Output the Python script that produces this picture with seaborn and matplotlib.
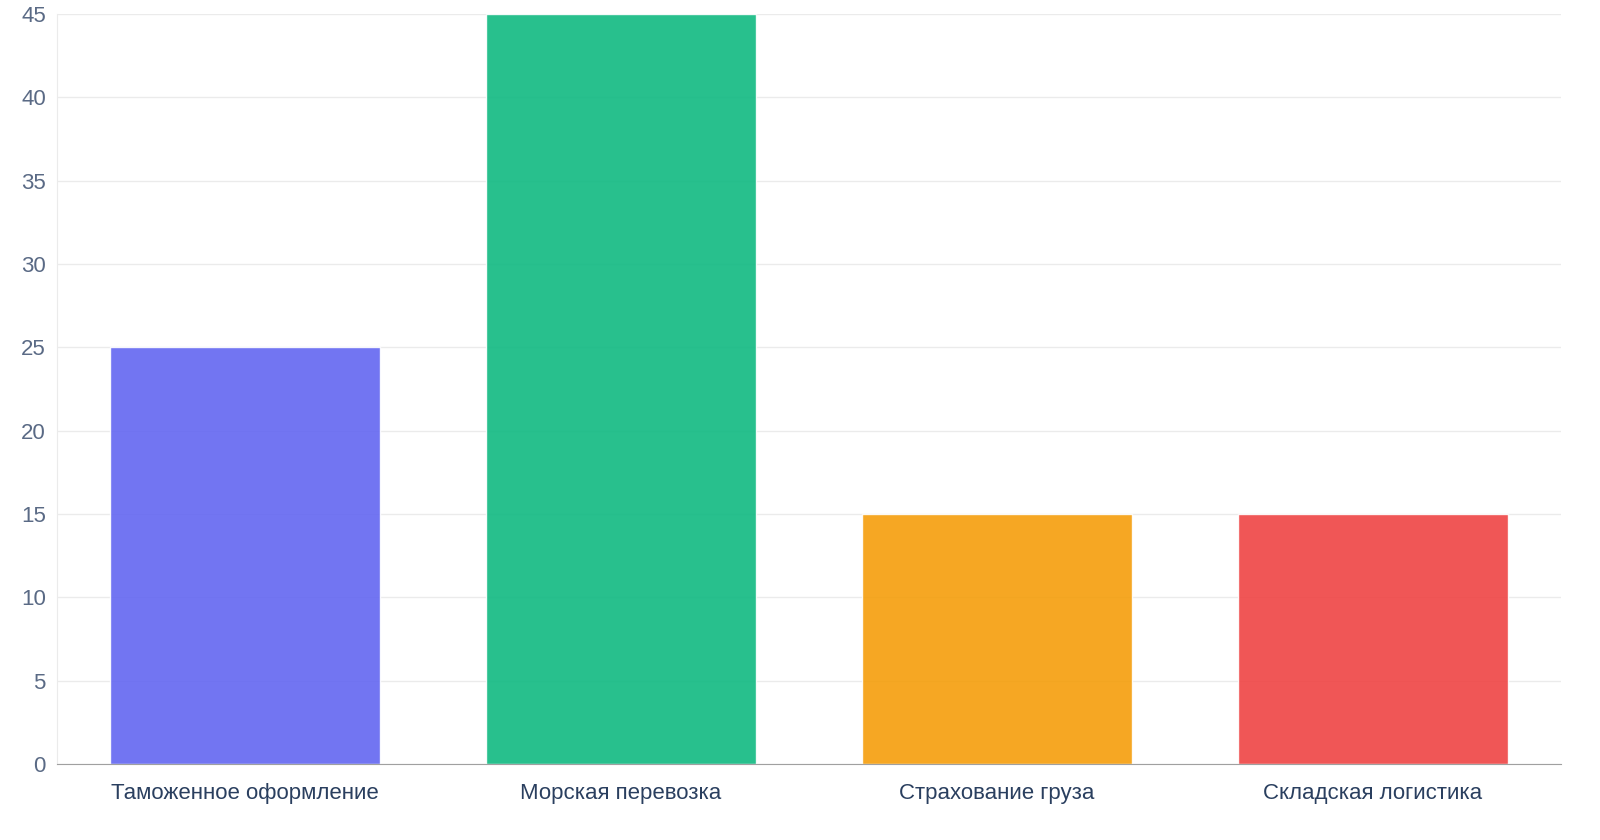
import matplotlib
matplotlib.use("Agg")
import matplotlib.pyplot as plt
import seaborn as sns
import pandas as pd

categories = ["Таможенное оформление", "Морская перевозка", "Страхование груза", "Складская логистика"]
values = [25, 45, 15, 15]
colors = ["#6366f1", "#10b981", "#f59e0b", "#ef4444"]

sns.set_style("white")
plt.rcParams["font.family"] = ["Liberation Sans", "DejaVu Sans"]

df = pd.DataFrame({"category": categories, "value": values})

fig = plt.figure(figsize=(16, 8.4), dpi=100)
ax = fig.add_axes([57 / 1600, 76 / 840, 1504 / 1600, 750 / 840])
sns.barplot(data=df, x="category", y="value", hue="category", palette=colors,
            width=0.72, alpha=0.9, legend=False, ax=ax, saturation=1)

ax.set_ylim(0, 45)
ax.set_yticks(range(0, 46, 5))
ax.set_xlim(-0.5, 3.5)
ax.grid(axis="y", color="#ebebeb", linewidth=1)
ax.set_axisbelow(True)
ax.set_xlabel("")
ax.set_ylabel("")
for s in ["top", "right"]:
    ax.spines[s].set_visible(False)
ax.spines["left"].set_color("#ebebeb")
ax.spines["bottom"].set_color("#a0a0a0")
ax.tick_params(axis="y", labelsize=16, labelcolor="#5a6a85", length=6, color="#a0a0a0", pad=2)
ax.tick_params(axis="x", labelsize=16, labelcolor="#2a3f5f", length=0, pad=14)

fig.savefig("out.png", dpi=100)
